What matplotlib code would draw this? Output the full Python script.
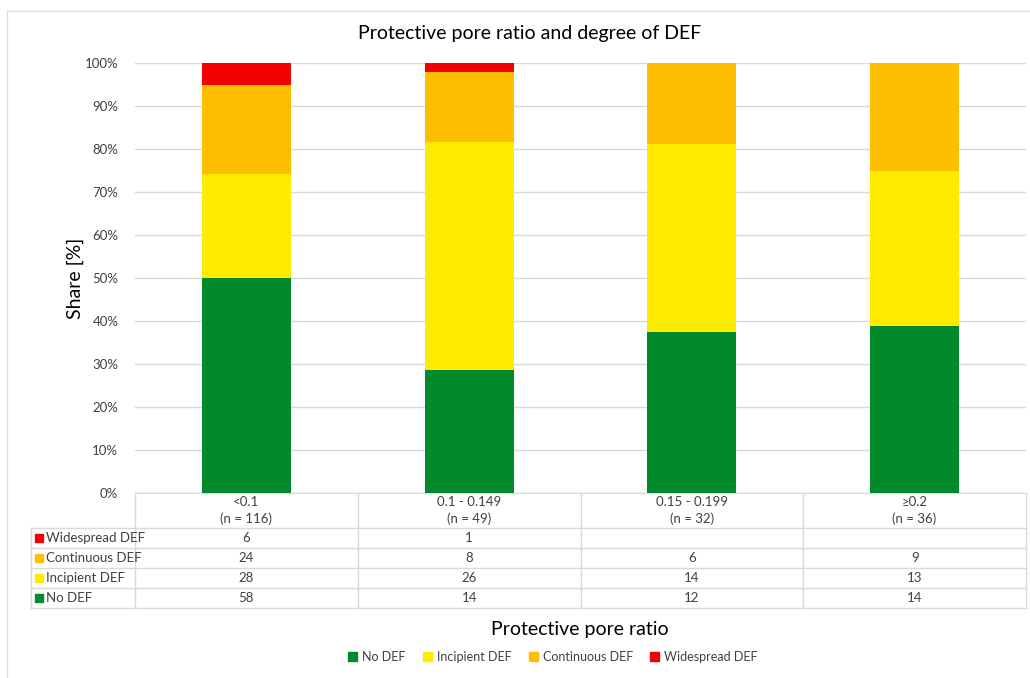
import numpy as np
import matplotlib.pyplot as plt
from matplotlib.patches import Rectangle
from matplotlib.lines import Line2D

plt.rcParams['font.family'] = ['Lato', 'DejaVu Sans']

categories = ["<0.1", "0.1 - 0.149", "0.15 - 0.199", "≥0.2"]
n_total = [116, 49, 32, 36]

series_names = ["No DEF", "Incipient DEF", "Continuous DEF", "Widespread DEF"]
no_def = [58, 14, 12, 14]
incipient = [28, 26, 14, 13]
continuous = [24, 8, 6, 9]
widespread = [6, 1, 0, 0]

colors = ["#008a2c", "#ffeb00", "#ffbf00", "#f40000"]
grid_col = "#d9d9d9"
text_col = "#404040"

W, H = 1030, 678
fig = plt.figure(figsize=(W / 100, H / 100), dpi=100)


def fx(px):
    return px / W


def fy(py):
    return 1 - py / H


# plot area in pixels
left, right, top, bottom = 135, 1026, 63, 493
ax = fig.add_axes([fx(left), fy(bottom), fx(right - left), (bottom - top) / H])

counts = np.array([no_def, incipient, continuous, widespread], dtype=float)
shares = counts / np.array(n_total) * 100
x = np.arange(len(categories))
base = np.zeros(len(categories))
for name, vals, c in zip(series_names, shares, colors):
    ax.bar(x, vals, width=0.4, bottom=base, color=c, label=name, zorder=3)
    base += vals

ax.set_xlim(-0.5, len(categories) - 0.5)
ax.set_ylim(0, 100)
ax.set_yticks(np.arange(0, 101, 10))
ax.set_yticklabels([f"{v}%" for v in range(0, 101, 10)])
ax.set_xticks([])
ax.tick_params(axis="y", length=0, pad=12, labelsize=9.5, labelcolor=text_col)
ax.grid(axis="y", color=grid_col, lw=1, zorder=0)
for s in ["top", "right", "left"]:
    ax.spines[s].set_visible(False)
ax.spines["bottom"].set_color(grid_col)
fig.text(fx(75), fy(278), "Share [%]", rotation=90, ha="center", va="center",
         fontsize=14, color="#000000")

# chart border (top and left visible)
fig.add_artist(Line2D([fx(7), fx(W)], [fy(11), fy(11)], color="#e0e0e0", lw=1))
fig.add_artist(Line2D([fx(7), fx(7)], [fy(11), fy(H)], color="#e0e0e0", lw=1))

fig.text(fx(530), fy(33), "Protective pore ratio and degree of DEF",
         ha="center", va="center", fontsize=14, color="#000000")

# data table below the axis
col_edges = np.linspace(left, right, len(categories) + 1)
row_y = [528, 548, 568, 588, 608]
tbl_left = 31

for y in row_y:
    fig.add_artist(Line2D([fx(tbl_left), fx(right)], [fy(y), fy(y)],
                          color=grid_col, lw=1))
for xe in col_edges:
    fig.add_artist(Line2D([fx(xe), fx(xe)], [fy(bottom), fy(row_y[-1])],
                          color=grid_col, lw=1))
fig.add_artist(Line2D([fx(tbl_left), fx(tbl_left)], [fy(row_y[0]), fy(row_y[-1])],
                      color=grid_col, lw=1))

for i, (cat, n) in enumerate(zip(categories, n_total)):
    xc = (col_edges[i] + col_edges[i + 1]) / 2
    fig.text(fx(xc), fy(510.5), f"{cat}\n(n = {n})", ha="center", va="center",
             fontsize=9.5, color=text_col, linespacing=1.45)

table_rows = list(zip(series_names, counts, colors))[::-1]
for r, (name, vals, c) in enumerate(table_rows):
    yc = (row_y[r] + row_y[r + 1]) / 2
    fig.add_artist(Rectangle((fx(35), fy(yc + 4)), fx(8), 8 / H,
                             color=c, transform=fig.transFigure))
    fig.text(fx(46), fy(yc), name, ha="left", va="center", fontsize=9.5,
             color=text_col)
    for i, v in enumerate(vals):
        if v == 0:
            continue
        xc = (col_edges[i] + col_edges[i + 1]) / 2
        fig.text(fx(xc), fy(yc), f"{int(v)}", ha="center", va="center",
                 fontsize=9.5, color=text_col)

fig.text(fx(580), fy(630), "Protective pore ratio", ha="center", va="center",
         fontsize=14, color="#000000")

# legend
handles = [Rectangle((0, 0), 1, 1, color=c) for c in colors]
fig.legend(handles, series_names, loc="center", bbox_to_anchor=(fx(553), fy(657)),
           ncol=4, frameon=False, fontsize=9, handlelength=0.7, handleheight=0.7,
           handletextpad=0.4, columnspacing=1.4, labelcolor=text_col)

fig.savefig("out.png", dpi=100)
